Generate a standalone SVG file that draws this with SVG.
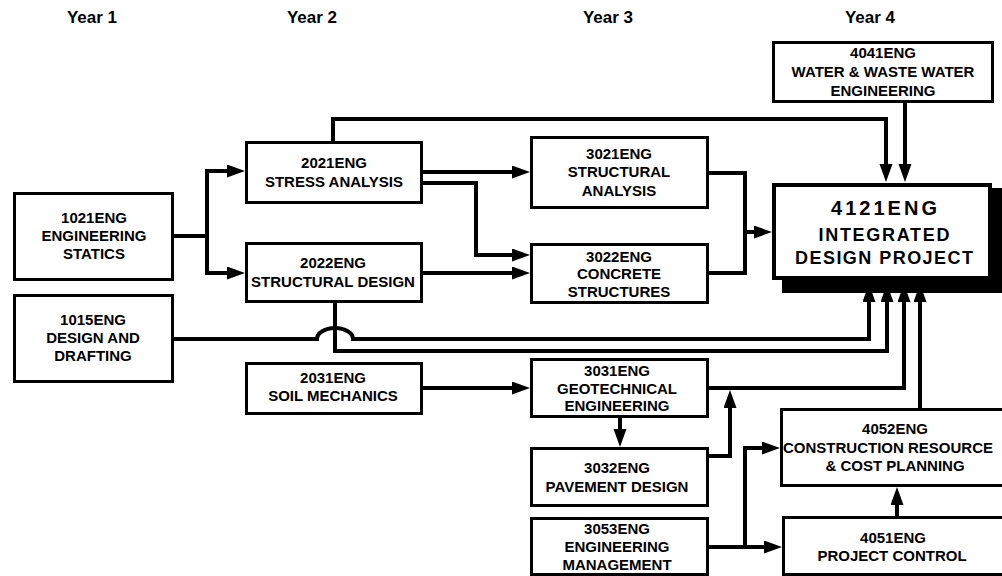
<svg xmlns="http://www.w3.org/2000/svg" width="1002" height="576" viewBox="0 0 1002 576">
<style>
.box{fill:#fff;stroke:#000;stroke-width:3}
.big{fill:#fff;stroke:#000;stroke-width:4}
.t{font-family:"Liberation Sans",Arial,sans-serif;font-weight:bold;font-size:15px;text-anchor:middle;fill:#000}
.yr{font-family:"Liberation Sans",Arial,sans-serif;font-weight:bold;font-size:17px;text-anchor:middle;fill:#000}
.bt{font-family:"Liberation Sans",Arial,sans-serif;font-weight:bold;font-size:18px;text-anchor:middle;fill:#000}
.bt20{font-size:20px}
.c{fill:none;stroke:#000;stroke-width:4}
.a{marker-end:url(#arr)}
</style>
<defs>
<marker id="arr" markerUnits="userSpaceOnUse" markerWidth="18" markerHeight="14" refX="8" refY="6.5" orient="auto">
<path d="M0,0 L18,6.5 L0,13 Z" fill="#000"/>
</marker>
</defs>
<rect width="1002" height="576" fill="#fff"/>
<g id="years">
<text class="yr" x="92" y="23">Year 1</text>
<text class="yr" x="312" y="23">Year 2</text>
<text class="yr" x="608" y="23">Year 3</text>
<text class="yr" x="870" y="23">Year 4</text>
</g>
<g id="connectors">
<path class="c a" d="M174,236 H207 V171 H235"/>
<path class="c a" d="M207,236 V273 H235"/>
<path class="c a" d="M333,141 V119 H886 V172"/>
<path class="c a" d="M905,103 V172"/>
<path class="c a" d="M423,172 H520"/>
<path class="c a" d="M423,183 H476 V255 H520"/>
<path class="c a" d="M423,273 H520"/>
<path class="c" d="M709,173 H745 V273 H709"/>
<path class="c a" d="M745,232 H762"/>
<path class="c a" d="M174,339 H317 A18,11 0 0 1 353,339 H869 V294"/>
<path class="c a" d="M335,303 V351 H887 V294"/>
<path class="c a" d="M709,388 H904 V294"/>
<path class="c a" d="M920,408 V294"/>
<path class="c a" d="M709,456 H730 V400"/>
<path class="c a" d="M620,418 V437"/>
<path class="c a" d="M423,388 H520"/>
<path class="c a" d="M709,547 H772"/>
<path class="c a" d="M745,547 V448 H770"/>
<path class="c a" d="M897,516 V497"/>
</g>
<g id="n1021">
<rect class="box" x="14.5" y="193.5" width="158" height="86"/>
<text class="t" x="94" y="223">1021ENG</text>
<text class="t" x="94" y="241">ENGINEERING</text>
<text class="t" x="94" y="259">STATICS</text>
</g>
<g id="n1015">
<rect class="box" x="14.5" y="295.5" width="158" height="86"/>
<text class="t" x="93" y="325">1015ENG</text>
<text class="t" x="93" y="343">DESIGN AND</text>
<text class="t" x="93" y="361">DRAFTING</text>
</g>
<g id="n2021">
<rect class="box" x="246.5" y="142.5" width="175" height="60"/>
<text class="t" x="334" y="168">2021ENG</text>
<text class="t" x="334" y="187">STRESS ANALYSIS</text>
</g>
<g id="n2022">
<rect class="box" x="246.5" y="243.5" width="175" height="58"/>
<text class="t" x="333" y="268">2022ENG</text>
<text class="t" x="333" y="287">STRUCTURAL DESIGN</text>
</g>
<g id="n2031">
<rect class="box" x="246.5" y="363.5" width="175" height="50"/>
<text class="t" x="333" y="383">2031ENG</text>
<text class="t" x="333" y="401">SOIL MECHANICS</text>
</g>
<g id="n3021">
<rect class="box" x="531.5" y="137.5" width="176" height="70"/>
<text class="t" x="619" y="159">3021ENG</text>
<text class="t" x="619" y="177">STRUCTURAL</text>
<text class="t" x="619" y="196">ANALYSIS</text>
</g>
<g id="n3022">
<rect class="box" x="531.5" y="244.5" width="176" height="58"/>
<text class="t" x="619" y="262">3022ENG</text>
<text class="t" x="619" y="279">CONCRETE</text>
<text class="t" x="619" y="297">STRUCTURES</text>
</g>
<g id="n3031">
<rect class="box" x="531.5" y="359.5" width="176" height="57"/>
<text class="t" x="617" y="376">3031ENG</text>
<text class="t" x="617" y="394">GEOTECHNICAL</text>
<text class="t" x="617" y="411">ENGINEERING</text>
</g>
<g id="n3032">
<rect class="box" x="531.5" y="448.5" width="176" height="57"/>
<text class="t" x="617" y="473">3032ENG</text>
<text class="t" x="617" y="492">PAVEMENT DESIGN</text>
</g>
<g id="n3053">
<rect class="box" x="531.5" y="518.5" width="176" height="56"/>
<text class="t" x="617" y="534">3053ENG</text>
<text class="t" x="617" y="552">ENGINEERING</text>
<text class="t" x="617" y="570">MANAGEMENT</text>
</g>
<g id="n4041">
<rect class="box" x="773.5" y="42.5" width="219" height="59"/>
<text class="t" x="883" y="58">4041ENG</text>
<text class="t" x="883" y="77">WATER &amp; WASTE WATER</text>
<text class="t" x="883" y="96">ENGINEERING</text>
</g>
<g id="n4121">
<rect x="782" y="188" width="222" height="105" fill="#000"/>
<rect class="big" x="774" y="185" width="216" height="93"/>
<text class="bt bt20" x="884" y="215" textLength="106" lengthAdjust="spacing">4121ENG</text>
<text class="bt" x="884" y="241" textLength="131" lengthAdjust="spacing">INTEGRATED</text>
<text class="bt" x="884" y="264" textLength="178" lengthAdjust="spacing">DESIGN PROJECT</text>
</g>
<g id="n4052">
<rect class="box" x="781.5" y="409.5" width="230" height="76"/>
<text class="t" x="895" y="434">4052ENG</text>
<text class="t" x="888" y="453">CONSTRUCTION RESOURCE</text>
<text class="t" x="895" y="471">&amp; COST PLANNING</text>
</g>
<g id="n4051">
<rect class="box" x="783.5" y="517.5" width="230" height="57"/>
<text class="t" x="893" y="543">4051ENG</text>
<text class="t" x="892" y="561">PROJECT CONTROL</text>
</g>
</svg>
